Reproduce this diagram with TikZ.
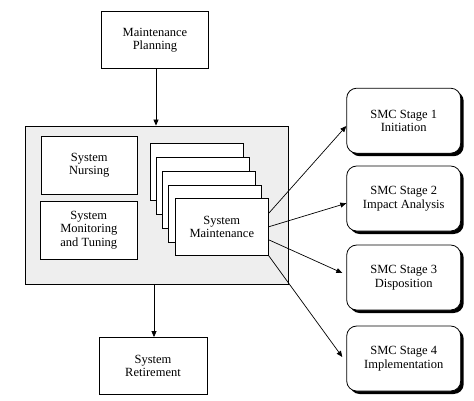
\documentclass[tikz,border=0pt]{standalone}
\usepackage{fontspec}
\setmainfont{Liberation Serif}
\usetikzlibrary{arrows.meta,shadows,calc}
\definecolor{panelgray}{RGB}{238,238,238}
\begin{document}
\begin{tikzpicture}[x=1pt,y=-1pt,
  every node/.style={font=\fontsize{12.5}{13.5}\selectfont, align=center, inner sep=0pt},
  box/.style={draw, line width=0.8pt, fill=white, minimum width=#1, minimum height=57pt},
  box/.default=96pt,
  stagebox/.style={draw, line width=0.8pt, fill=white, rounded corners=10pt,
    minimum width=114pt, minimum height=65pt,
    general shadow={fill=black, shadow xshift=3pt, shadow yshift=-3pt}},
  arr/.style={line width=0.7pt, -{Triangle[length=6pt,width=5pt]}}
]
\useasboundingbox (0,0) rectangle (474,401);

\node[box=107pt] (plan) at (155,40) {Maintenance\\Planning};
\node[draw, line width=0.8pt, fill=panelgray, minimum width=262.6pt, minimum height=158pt] (panel) at (157,205) {};
\node[box=96pt, minimum height=58pt] (nurse) at (89.3,165) {System\\Nursing};
\node[box=97pt, minimum height=58pt] (mon) at (88.8,230) {System\\Monitoring\\and Tuning};
\node[box=93pt] (m1) at (196.8,171.8) {};
\node[box=93pt] (m2) at (202.8,185.8) {};
\node[box=93pt] (m3) at (208.8,199.8) {};
\node[box=93pt] (m4) at (214.8,213.8) {};
\node[box=93pt] (sm) at (221.8,226.8) {System\\Maintenance};
\node[box=108pt] (ret) at (153,366) {System\\Retirement};

\node[stagebox] (s1) at (403.7,120.7) {SMC Stage 1\\Initiation};
\node[stagebox] (s2) at (403.7,198.5) {SMC Stage 2\\Impact Analysis};
\node[stagebox] (s3) at (403.7,277.5) {SMC Stage 3\\Disposition};
\node[stagebox] (s4) at (403.7,358.5) {SMC Stage 4\\Implementation};

\draw[arr] (plan.south -| 156,0) -- (panel.north -| 156,0);
\draw[arr] (panel.south -| 154,0) -- (ret.north -| 154,0);

\draw[arr] ($(sm.east)+(0,-13.5)$) -- ($(s1.west)+(0,5.3)$);
\draw[arr] (sm.east) -- ($(s2.west)+(0,4.8)$);
\draw[arr] ($(sm.east)+(0,13)$) -- ($(s3.west)+(-4,-4.5)$);
\draw[arr] (sm.south east) -- ($(s4.west)+(-4,-1.5)$);
\end{tikzpicture}
\end{document}
